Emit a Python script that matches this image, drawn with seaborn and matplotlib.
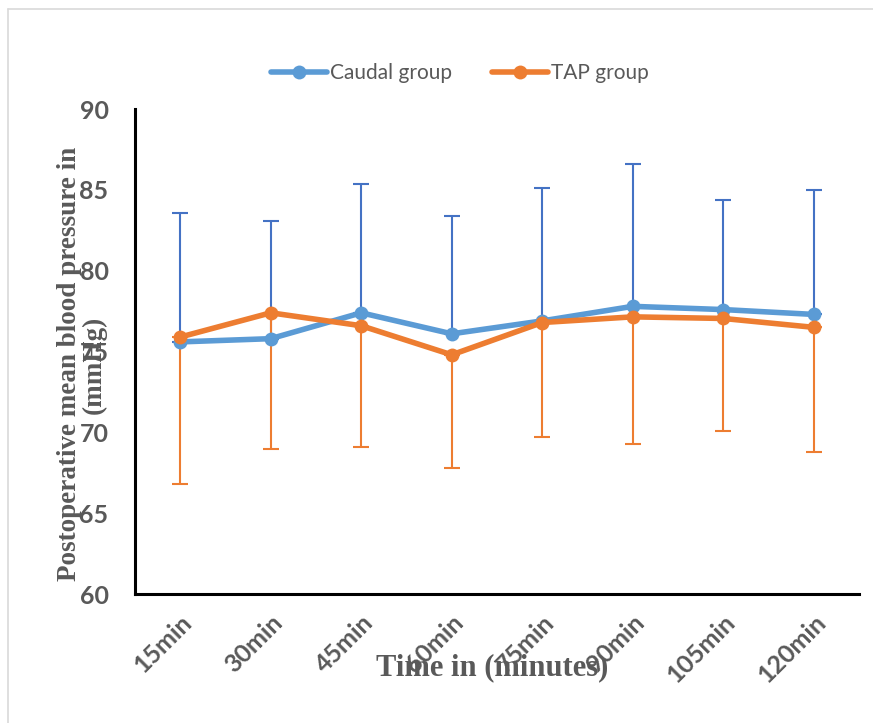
import matplotlib
matplotlib.use("Agg")
import matplotlib.pyplot as plt
import seaborn as sns
import pandas as pd
from matplotlib.lines import Line2D

# data
time_labels = ["15min", "30min", "45min", "60min", "75min", "90min", "105min", "120min"]
caudal_mean = [75.6, 75.8, 77.4, 76.1, 76.9, 77.8, 77.6, 77.3]
caudal_upper = [83.6, 83.1, 85.4, 83.4, 85.1, 86.6, 84.4, 85.0]
tap_mean = [75.9, 77.4, 76.6, 74.8, 76.8, 77.15, 77.05, 76.5]
tap_lower = [66.8, 69.0, 69.1, 67.8, 69.7, 69.3, 70.1, 68.8]

BLUE = "#5B9BD5"
BLUE_ERR = "#4472C4"
ORANGE = "#ED7D31"
GREY = "#595959"

df = pd.DataFrame({
    "time": time_labels * 2,
    "value": caudal_mean + tap_mean,
    "group": ["Caudal group"] * len(time_labels) + ["TAP group"] * len(time_labels),
})

sns.set_style("white")
plt.rcParams["font.family"] = ["Lato", "DejaVu Sans"]

fig = plt.figure(figsize=(8.73, 7.23), dpi=100)
ax = fig.add_axes([0.1546, 0.1784, 0.8294, 0.6706])

# one-sided error bars, like the source chart
caudal_err = [0] * len(time_labels), [u - m for u, m in zip(caudal_upper, caudal_mean)]
tap_err = [m - l for m, l in zip(tap_mean, tap_lower)], [0] * len(time_labels)
ax.errorbar(time_labels, caudal_mean, yerr=caudal_err, fmt="none", ecolor=BLUE_ERR,
            elinewidth=1.5, capsize=6, capthick=1.5, zorder=1)
ax.errorbar(time_labels, tap_mean, yerr=tap_err, fmt="none", ecolor=ORANGE,
            elinewidth=1.5, capsize=6, capthick=1.5, zorder=1)

sns.lineplot(data=df, x="time", y="value", hue="group", palette=[BLUE, ORANGE],
             marker="o", markersize=10, markeredgewidth=0, linewidth=4,
             ax=ax, zorder=3, sort=False)

ax.set_xlim(-0.5, len(time_labels) - 0.5)
ax.set_ylim(60, 90)
ax.set_yticks([60, 65, 70, 75, 80, 85, 90])
ax.tick_params(axis="both", length=0, labelsize=18, labelcolor=GREY)
ax.tick_params(axis="y", pad=19)
for t in ax.get_yticklabels():
    t.set_fontweight("bold")
for t in ax.get_xticklabels():
    t.set_fontweight("bold")
    t.set_rotation(45)
    t.set_ha("right")
    t.set_rotation_mode("anchor")
ax.tick_params(axis="x", pad=12)

for side in ["top", "right"]:
    ax.spines[side].set_visible(False)
for side in ["left", "bottom"]:
    ax.spines[side].set_color("black")
    ax.spines[side].set_linewidth(2.2)

ax.set_xlabel("")
ax.set_ylabel("")
fig.text(0.564, 0.076, "Time in (minutes)", family="Liberation Serif", fontweight="bold",
         fontsize=22, color=GREY, ha="center", va="center", zorder=5)
fig.text(0.094, 0.496, "Postoperative mean blood pressure in\n(mmHg)", family="Liberation Serif",
         fontweight="bold", fontsize=19.5, color=GREY, ha="center", va="center",
         rotation=90, linespacing=0.95, zorder=5)

handles, labels = ax.get_legend_handles_labels()
ax.legend(handles, labels, loc="center", bbox_to_anchor=(0.527, 0.899),
          bbox_transform=fig.transFigure, ncol=2, frameon=False, fontsize=15,
          labelcolor=GREY, handlelength=2.7, handletextpad=0.15, columnspacing=1.9)

# light grey chart border (left and top visible)
fig.add_artist(Line2D([8 / 873, 8 / 873], [0, 1 - 9 / 723], color="#D9D9D9", linewidth=1.2))
fig.add_artist(Line2D([8 / 873, 1], [1 - 9 / 723, 1 - 9 / 723], color="#D9D9D9", linewidth=1.2))

fig.savefig("out.png", dpi=100)
